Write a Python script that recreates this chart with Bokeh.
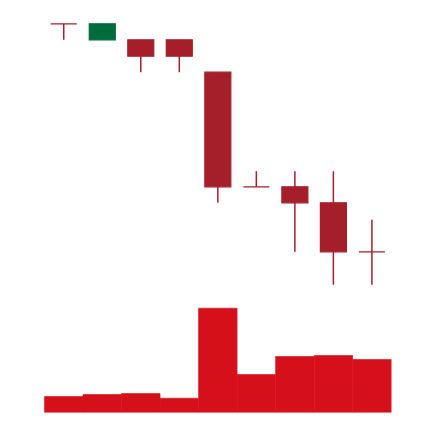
from bokeh.plotting import figure
from bokeh.models import Range1d
from bokeh.embed import file_html
from bokeh.resources import INLINE

idx = list(range(9))
opens = [20.00, 19.20, 19.20, 19.20, 17.58, 11.85, 11.85, 11.05, 8.60]
highs = [20.00, 20.00, 19.20, 19.20, 17.58, 12.63, 12.63, 12.63, 10.20]
lows = [19.20, 19.20, 17.58, 17.58, 11.05, 11.85, 8.60, 6.95, 6.95]
closes = [20.00, 20.00, 18.38, 18.38, 11.85, 11.85, 11.05, 8.60, 8.60]
volumes = [1570, 1770, 1870, 1400, 10400, 3770, 5570, 5670, 5270]

UP = "#006b3c"
DOWN = "#a51f2b"
VOL = "#d6101b"

p = figure(width=434, height=422, output_backend="svg", toolbar_location=None,
           x_range=Range1d(-1.642, 9.625), y_range=Range1d(0.065, 21.165),
           min_border=0, outline_line_color=None, background_fill_color="white",
           border_fill_color="white")
p.xaxis.visible = False
p.yaxis.visible = False
p.grid.visible = False
p.extra_y_ranges = {"vol": Range1d(-1030, 41170)}

p.vbar(x=idx, top=volumes, bottom=0, width=1.0, y_range_name="vol",
       fill_color=VOL, line_color=VOL, line_width=0.6, line_join="miter")

colors = [UP if c > o else DOWN for o, c in zip(opens, closes)]
p.segment(x0=idx, y0=highs, x1=idx, y1=lows, line_color=colors, line_width=1.5)
tops = [max(o, c) for o, c in zip(opens, closes)]
bots = [min(o, c) for o, c in zip(opens, closes)]
p.vbar(x=idx, top=tops, bottom=bots, width=0.675, fill_color=colors,
       line_color=colors, line_width=1.2, line_join="miter")

open("out.html", "w").write(file_html(p, INLINE))
